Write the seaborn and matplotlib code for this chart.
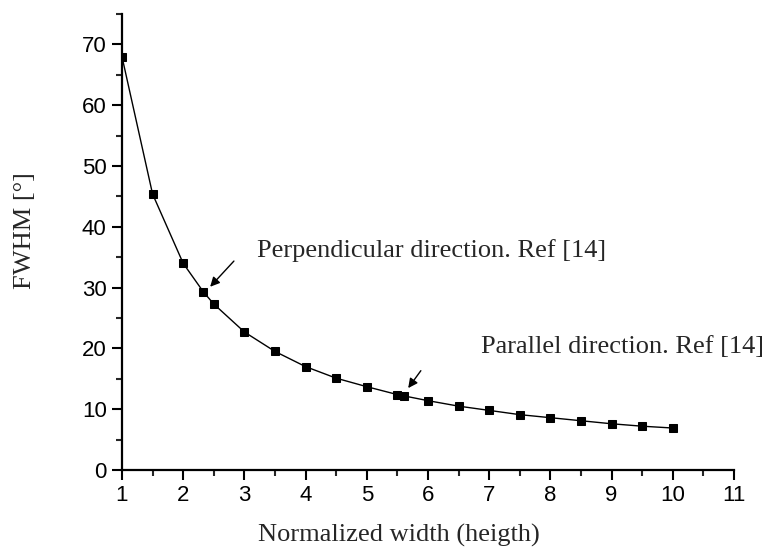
import numpy as np
import pandas as pd
import seaborn as sns
import matplotlib.pyplot as plt

# Data
width = [1, 1.5, 2, 2.33, 2.5, 3, 3.5, 4, 4.5, 5, 5.5, 5.6, 6, 6.5, 7, 7.5, 8, 8.5, 9, 9.5, 10]
fwhm = [68.0, 45.4, 34.0, 29.3, 27.3, 22.7, 19.5, 17.0, 15.1, 13.7, 12.4, 12.2,
        11.4, 10.5, 9.8, 9.1, 8.6, 8.1, 7.6, 7.2, 6.9]
xticks = list(range(1, 12))
yticks = list(range(0, 80, 10))

df = pd.DataFrame({"width": width, "fwhm": fwhm})

sns.set_style("ticks")
plt.rcParams["font.family"] = ["Liberation Sans", "DejaVu Sans"]

fig = plt.figure(figsize=(7.67, 5.52), dpi=100)
ax = fig.add_axes([0.159, 0.1486, 0.798, 0.826])

sns.lineplot(data=df, x="width", y="fwhm", ax=ax, color="black", lw=1.0,
             marker="s", markersize=6, markeredgecolor="black",
             markerfacecolor="black", estimator=None, sort=False)

ax.set_xlim(1, 11)
ax.set_ylim(0, 75)
ax.set_xticks(xticks)
ax.set_yticks(yticks)
ax.set_xticks(np.arange(1.5, 11, 1), minor=True)
ax.set_yticks(np.arange(5, 76, 10), minor=True)
ax.tick_params(axis="both", which="major", direction="out", length=7, width=1.5,
               labelsize=16, colors="black", pad=4)
ax.tick_params(axis="both", which="minor", direction="out", length=4, width=1.5)

sns.despine(ax=ax)
for s in ["left", "bottom"]:
    ax.spines[s].set_linewidth(1.6)
    ax.spines[s].set_color("black")

serif = ["Liberation Serif", "DejaVu Serif"]
ax.set_xlabel("Normalized width (heigth)", family=serif, fontsize=19)
ax.set_ylabel("FWHM [°]", family=serif, fontsize=19)
ax.xaxis.set_label_coords(0.452, -0.118)
ax.yaxis.set_label_coords(-0.14, 0.526)

ax.annotate("", xy=(2.41, 29.8), xytext=(2.86, 34.7),
            arrowprops=dict(arrowstyle="-|>", color="black", lw=1, mutation_scale=14))
ax.text(3.2, 35.0, "Perpendicular direction. Ref [14]", family=serif, fontsize=19,
        va="baseline", ha="left")

ax.annotate("", xy=(5.65, 13.1), xytext=(5.91, 16.7),
            arrowprops=dict(arrowstyle="-|>", color="black", lw=1, mutation_scale=14))
ax.text(6.87, 19.2, "Parallel direction. Ref [14]", family=serif, fontsize=19,
        va="baseline", ha="left", clip_on=False)

fig.savefig("out.png", dpi=100)
